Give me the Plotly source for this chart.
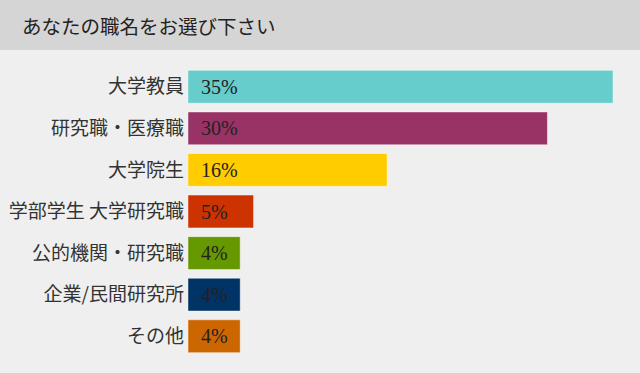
import plotly.graph_objects as go

categories = ["大学教員", "研究職・医療職", "大学院生", "学部学生 大学研究職",
              "公的機関・研究職", "企業/民間研究所", "その他"]
values = [35.0, 29.6, 16.4, 5.4, 4.3, 4.3, 4.3]
value_labels = ["35%", "30%", "16%", "5%", "4%", "4%", "4%"]
colors = ["#66cccc", "#993366", "#ffcc00", "#cc3300", "#669900", "#003366", "#cc6600"]
title = "あなたの職名をお選び下さい"

W, H = 640, 373
ML, MR, MT, MB = 188, 27, 66, 16
pw, ph = W - ML - MR, H - MT - MB

fig = go.Figure(go.Bar(
    y=categories, x=values, orientation="h",
    marker=dict(color=colors, line=dict(color="rgba(255,255,255,0.45)", width=1)),
    width=0.79, hoverinfo="skip",
))

for c, lab in zip(categories, value_labels):
    fig.add_annotation(x=0, y=c, text=lab, showarrow=False, xanchor="left", xshift=11,
                       font=dict(family="Liberation Serif, serif", size=20, color="#222222"))

# title band
fig.add_shape(type="rect", xref="paper", yref="paper", layer="below",
              x0=-ML / pw, x1=1 + MR / pw, y0=1 + (MT - 50) / ph, y1=1 + MT / ph,
              fillcolor="#d5d5d5", line=dict(width=0))
fig.add_annotation(xref="paper", yref="paper", x=(20 - ML) / pw, y=1 + (MT - 25) / ph,
                   text=title, showarrow=False, xanchor="left", yanchor="middle",
                   font=dict(family="Noto Sans CJK JP", size=19.5, color="#222222"))

fig.update_layout(
    width=W, height=H, margin=dict(l=ML, r=MR, t=MT, b=MB, autoexpand=False),
    paper_bgcolor="#efefef", plot_bgcolor="#efefef",
    showlegend=False,
    xaxis=dict(range=[0, 35], visible=False, fixedrange=True, automargin=False),
    yaxis=dict(autorange="reversed", showgrid=False, zeroline=False, showline=False,
               ticks="", ticklabelstandoff=3, automargin=False,
               tickfont=dict(family="Noto Sans CJK JP", size=19, color="#333333")),
)

fig.write_html("out.html", config={"displayModeBar": False},
               post_script="document.body.style.margin='0';document.body.style.overflow='hidden';")
